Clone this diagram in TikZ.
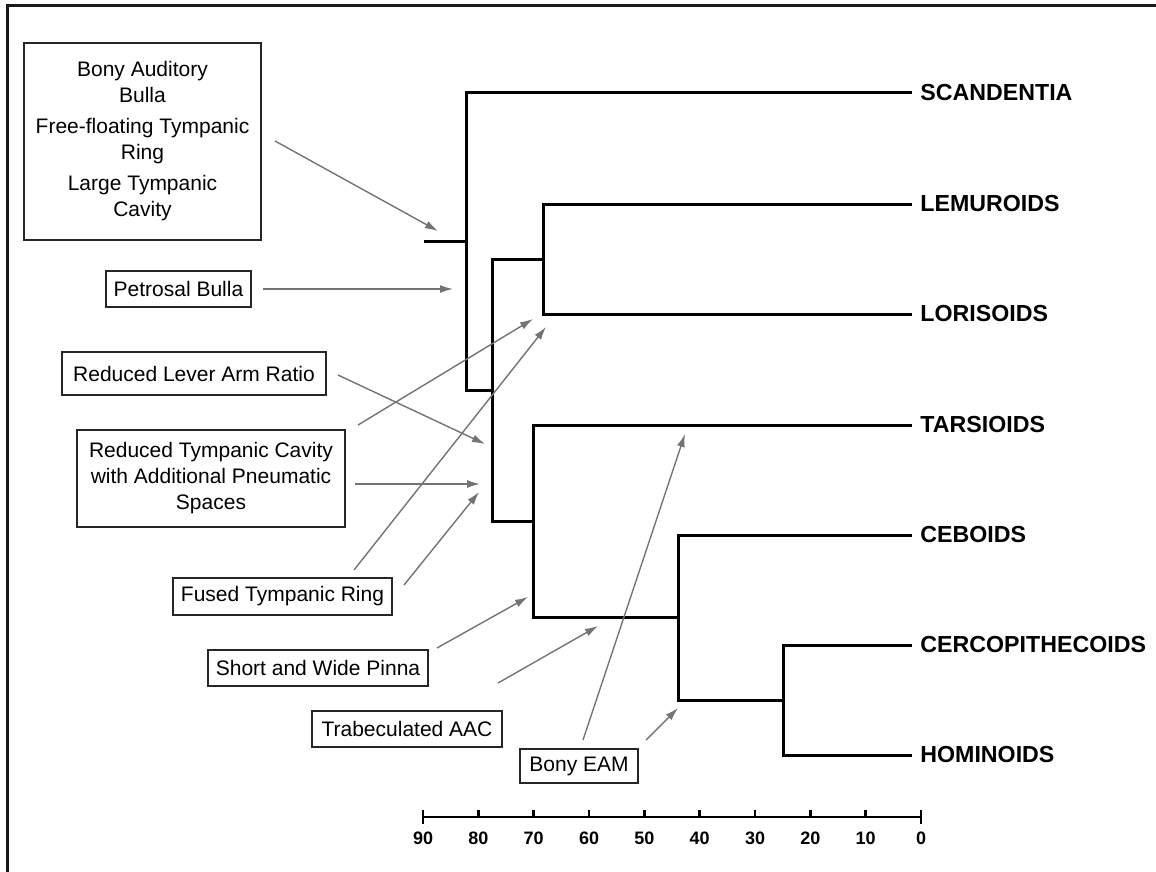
\documentclass[tikz,border=0pt]{standalone}
\usepackage{fontspec}
\setmainfont{Liberation Sans}
\usetikzlibrary{arrows.meta,positioning}
\tikzset{
  frame/.style={
    line width=1.5pt,
    black!90
  },
  branch/.style={
    line width=1.5pt
  },
  trait/.style={
    draw=black!85,
    line width=1pt,
    align=center,
    inner sep=0pt,
    font=\fontsize{10.5}{13}\selectfont
  },
  taxon/.style={
    anchor=west,
    inner xsep=4pt,
    inner ysep=0pt,
    font=\fontsize{11.6}{14}\selectfont\bfseries
  },
  flow/.style={
    -{Latex[length=6.5pt,width=4pt]},
    line width=0.7pt,
    black!55
  },
  axis/.style={
    line width=1.2pt
  },
  years/.style={
    font=\fontsize{9}{10}\selectfont\bfseries
  }
}

\begin{document}
\begin{tikzpicture}[x=0.5pt, y=-0.5pt]
  \useasboundingbox (0,0) rectangle (1156,872);
  \draw[frame] (1156,6) -- (7,6) -- (7,872);

  % taxa
  \node[taxon] (scand) at (912,93) {SCANDENTIA};
  \node[taxon] (lemur) at (912,204) {LEMUROIDS};
  \node[taxon] (loris) at (912,314) {LORISOIDS};
  \node[taxon] (tarsi) at (912,425) {TARSIOIDS};
  \node[taxon] (cebo) at (912,535) {CEBOIDS};
  \node[taxon] (cerco) at (912,645) {CERCOPITHECOIDS};
  \node[taxon] (homin) at (912,755) {HOMINOIDS};

  % tree
  \coordinate (stub) at (424,241);
  \coordinate (root) at (466,241);
  \coordinate (prim) at (492,390);
  \coordinate (strep) at (543,259);
  \coordinate (haplo) at (533,521);
  \coordinate (anthro) at (678,617);
  \coordinate (catar) at (783,700);
  \draw[branch] (stub) -- (root);
  \draw[branch] (root) |- (scand);
  \draw[branch] (root) |- (prim);
  \draw[branch] (prim) |- (strep);
  \draw[branch] (prim) |- (haplo);
  \draw[branch] (strep) |- (lemur);
  \draw[branch] (strep) |- (loris);
  \draw[branch] (haplo) |- (tarsi);
  \draw[branch] (haplo) |- (anthro);
  \draw[branch] (anthro) |- (cebo);
  \draw[branch] (anthro) |- (catar);
  \draw[branch] (catar) |- (cerco);
  \draw[branch] (catar) |- (homin);

  % character boxes
  \node[trait, minimum width=118.5pt, minimum height=98.5pt] (bulla) at (142.5,141.5)
    {Bony Auditory\\Bulla\\[2.5pt]Free-floating Tympanic\\Ring\\[2.5pt]Large Tympanic\\Cavity};
  \node[trait, minimum width=72.5pt, minimum height=18pt] (petro) at (178.5,289) {Petrosal Bulla};
  \node[trait, minimum width=132pt, minimum height=21.5pt] (lever) at (194,373.5) {Reduced Lever Arm Ratio};
  \node[trait, minimum width=134pt, minimum height=48.5pt] (redtymp) at (211,478.5)
    {Reduced Tympanic Cavity\\with Additional Pneumatic\\Spaces};
  \node[trait, minimum width=109.5pt, minimum height=18.5pt] (fused) at (282.5,596.5) {Fused Tympanic Ring};
  \node[trait, minimum width=110pt, minimum height=18pt] (pinna) at (318,668) {Short and Wide Pinna};
  \node[trait, minimum width=95pt, minimum height=18pt] (trab) at (407,729) {Trabeculated AAC};
  \node[trait, minimum width=59pt, minimum height=17pt] (eam) at (579,766) {Bony EAM};

  % arrow ends
  \coordinate (bulla-a) at (275,141);  \coordinate (bulla-b) at (438,231);
  \coordinate (petro-a) at (263,289);  \coordinate (petro-b) at (453,289);
  \coordinate (lever-a) at (338,375);  \coordinate (lever-b) at (485,444);
  \coordinate (redtymp-a) at (358,425); \coordinate (redtymp-b) at (533,319);
  \coordinate (redtymp-c) at (355,484); \coordinate (redtymp-d) at (480,484);
  \coordinate (fused-a) at (354,570);  \coordinate (fused-b) at (546,327);
  \coordinate (fused-c) at (404,585);  \coordinate (fused-d) at (479,492);
  \coordinate (pinna-a) at (437,648);  \coordinate (pinna-b) at (528,597);
  \coordinate (trab-a) at (498,683);   \coordinate (trab-b) at (598,626);
  \coordinate (eam-a) at (583,740);    \coordinate (eam-b) at (685,434);
  \coordinate (eam-c) at (646,740);    \coordinate (eam-d) at (678,708);

  \draw[flow] (bulla-a) -- (bulla-b);
  \draw[flow] (petro-a) -- (petro-b);
  \draw[flow] (lever-a) -- (lever-b);
  \draw[flow] (redtymp-a) -- (redtymp-b);
  \draw[flow] (redtymp-c) -- (redtymp-d);
  \draw[flow] (fused-a) -- (fused-b);
  \draw[flow] (fused-c) -- (fused-d);
  \draw[flow] (pinna-a) -- (pinna-b);
  \draw[flow] (trab-a) -- (trab-b);
  \draw[flow] (eam-a) -- (eam-b);
  \draw[flow] (eam-c) -- (eam-d);

  % time axis
  \coordinate (ax90) at (423,817);
  \coordinate (ax0) at (921,817);
  \draw[axis] (ax90) -- (ax0);
  \draw[axis] (423,810) -- (423,824);
  \draw[axis] (921,810) -- (921,824);
  \foreach \v in {10,20,...,80}
    \draw[axis] ({921-\v*5.533},810) -- ({921-\v*5.533},817);
  \foreach \v in {0,10,...,90}
    \node[years] (yr\v) at ({921-\v*5.533},838) {\v};
\end{tikzpicture}
\end{document}
